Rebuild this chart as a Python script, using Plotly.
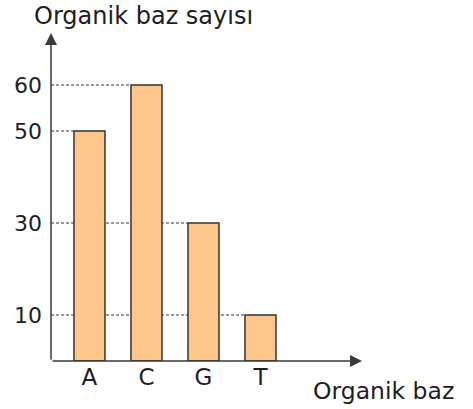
import plotly.graph_objects as go

categories = ["A", "C", "G", "T"]
values = [50, 60, 30, 10]
y_ticks = [10, 30, 50, 60]
y_title = "Organik baz sayısı"
x_title = "Organik baz"

xpos = list(range(len(categories)))
bar_w = 0.544
FONT = "DejaVu Sans, Liberation Sans, sans-serif"
INK = "#1e1e1e"

fig = go.Figure()
fig.add_trace(go.Bar(
    x=xpos, y=values, width=bar_w,
    marker=dict(color="#FDC78A", line=dict(color="#333333", width=1.5)),
    hoverinfo="skip",
))

# dotted guide lines from y axis to left edge of bar
for xi, v in zip(xpos, values):
    fig.add_shape(type="line", xref="x", yref="y",
                  x0=-0.675, x1=xi - bar_w / 2, y0=v, y1=v,
                  line=dict(color="#333333", width=1, dash="3px,2px"), layer="below")

# axes with arrows
fig.add_annotation(xref="paper", yref="paper", x=0, y=1, ax=0, ay=328,
                   axref="pixel", ayref="pixel", text="", showarrow=True,
                   arrowhead=2, arrowsize=1.6, arrowwidth=1.5, arrowcolor="#3a3a3a", standoff=0)
fig.add_annotation(xref="paper", yref="paper", x=1, y=0, ax=-311, ay=0,
                   axref="pixel", ayref="pixel", text="", showarrow=True,
                   arrowhead=2, arrowsize=1.6, arrowwidth=1.5, arrowcolor="#3a3a3a", standoff=0)

fig.add_annotation(xref="paper", yref="paper", x=-0.061, y=1.052, xanchor="left", yanchor="middle",
                   text=y_title, showarrow=False, font=dict(family=FONT, size=24, color=INK))
fig.add_annotation(xref="paper", yref="paper", x=0.836, y=-0.0915, xanchor="left", yanchor="middle",
                   text=x_title, showarrow=False, font=dict(family=FONT, size=23.5, color=INK))

fig.update_layout(
    width=473, height=409,
    margin=dict(l=51, r=111, t=33, b=48, pad=0),
    paper_bgcolor="white", plot_bgcolor="white",
    showlegend=False,
    xaxis=dict(range=[-0.675, 4.781], tickmode="array", tickvals=xpos, ticktext=categories,
               showgrid=False, zeroline=False, showline=False, ticks="",
               tickfont=dict(family=FONT, size=23, color=INK), fixedrange=True),
    yaxis=dict(range=[0, 328 / 4.6], tickmode="array", tickvals=y_ticks,
               showgrid=False, zeroline=False, showline=False, ticks="",
               ticklabelstandoff=8,
               tickfont=dict(family=FONT, size=22, color=INK), fixedrange=True),
)

fig.write_html("out.html", config={"displayModeBar": False},
               post_script="document.body.style.margin='0';document.body.style.padding='0';")
